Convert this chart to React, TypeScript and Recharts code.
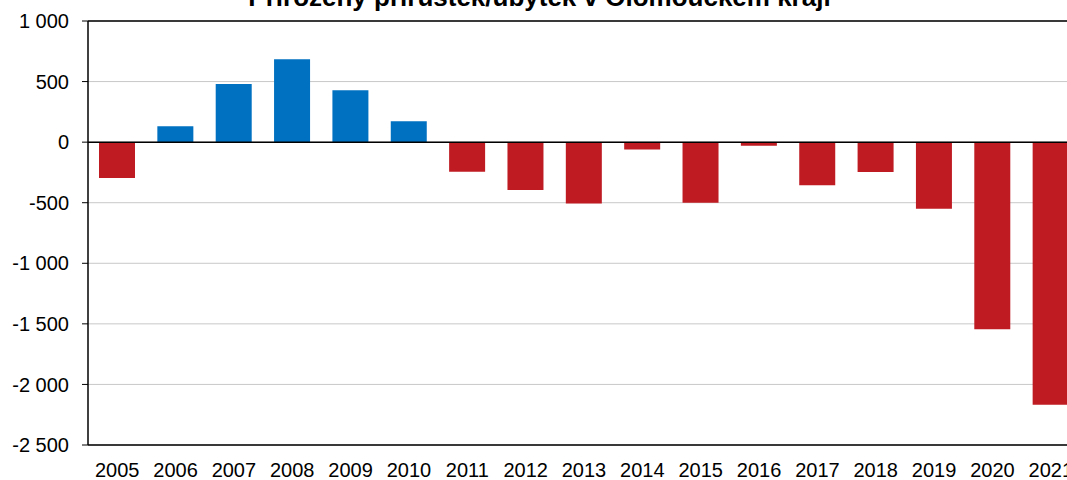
import { Bar, BarChart, CartesianGrid, Cell, ReferenceLine, XAxis, YAxis } from 'recharts'

const years = ['2005', '2006', '2007', '2008', '2009', '2010', '2011', '2012', '2013', '2014', '2015', '2016', '2017', '2018', '2019', '2020', '2021']
const values = [-297, 132, 479, 685, 429, 173, -245, -396, -506, -60, -500, -30, -355, -247, -550, -1545, -2167]
const yTicks = [-2500, -2000, -1500, -1000, -500, 0, 500, 1000]

const data = years.map((year, i) => ({ year, value: values[i] }))

const FONT = '"Liberation Sans", Arial, sans-serif'
const BLUE = '#0070c0'
const RED = '#be1b23'

const fmt = (v: number) => {
  const s = Math.abs(v).toString().replace(/\B(?=(\d{3})+(?!\d))/g, ' ')
  return (v < 0 ? '-' : '') + s
}

export default function App() {
  return (
    <div style={{ position: 'absolute', left: 0, top: 0, width: 1067, height: 480, overflow: 'hidden', background: '#fff', fontFamily: FONT }}>
      <div
        style={{
          position: 'absolute',
          left: 0,
          width: 1079,
          top: -16,
          textAlign: 'center',
          fontWeight: 'bold',
          fontSize: 26,
          lineHeight: 1,
          color: '#000',
          whiteSpace: 'nowrap',
        }}
      >
        Přirozený přírůstek/úbytek v Olomouckém kraji
      </div>
      <BarChart width={1100} height={480} data={data} margin={{ top: 21, right: 20, left: 0, bottom: 0 }}>
        <CartesianGrid vertical={false} stroke="#c8c8c8" />
        <XAxis
          dataKey="year"
          height={35}
          tickLine={false}
          tickSize={0}
          tickMargin={18}
          axisLine={{ stroke: '#000', strokeWidth: 1.5 }}
          tick={{ fontSize: 20, fill: '#000', fontFamily: FONT }}
          interval={0}
        />
        <YAxis
          width={88}
          domain={[-2500, 1000]}
          ticks={yTicks}
          tickFormatter={fmt}
          tickSize={6}
          tickMargin={13}
          axisLine={{ stroke: '#000', strokeWidth: 1.5 }}
          tickLine={{ stroke: '#000' }}
          tick={{ fontSize: 20, fill: '#000', fontFamily: FONT }}
        />
        <ReferenceLine y={1000} stroke="#000" strokeWidth={1.5} />
        <Bar dataKey="value" barSize={36} isAnimationActive={false}>
          {data.map((d, i) => (
            <Cell key={i} fill={d.value >= 0 ? BLUE : RED} />
          ))}
        </Bar>
        <ReferenceLine y={0} stroke="#000" strokeWidth={1.5} />
      </BarChart>
    </div>
  )
}
